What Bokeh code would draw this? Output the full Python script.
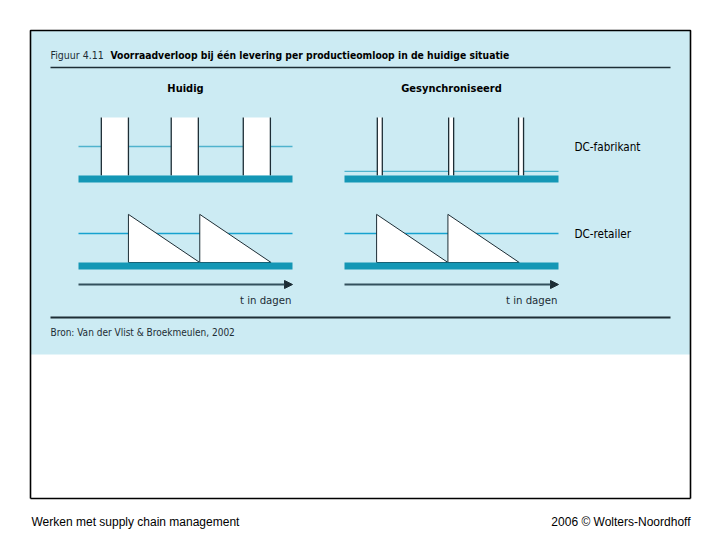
from bokeh.plotting import figure
from bokeh.models import Range1d, Arrow, NormalHead
from bokeh.core.properties import value
from bokeh.embed import file_html
from bokeh.resources import INLINE

# ---------------- data (days / stock units) ----------------
panels = ["Huidig", "Gesynchroniseerd"]
rows = ["DC-fabrikant", "DC-retailer"]
t_max = 30.0                       # days on each time axis
prod_start_huidig = [3.2, 13.0, 23.1]   # start of production run (days)
prod_len_huidig = 3.8
prod_start_sync = [4.6, 14.6, 24.4]
prod_len_sync = 0.7
fab_max = 100                      # stock level during a production run
fab_gem_huidig = 50                # average stock level DC-fabrikant
fab_gem_sync = 7
lev_huidig = [7.0, 17.0]           # deliveries to DC-retailer (days)
lev_sync = [4.5, 14.5]
cyclus = 10.0                      # days between deliveries
ret_max = 83
ret_gem = 50
x_label = "t in dagen"
title_a = "Figuur 4.11"
title_b = "Voorraadverloop bij één levering per productieomloop in de huidige situatie"
bron = "Bron: Van der Vlist & Broekmeulen, 2002"
foot_l = "Werken met supply chain management"
foot_r = "2006 © Wolters-Noordhoff"

# ---------------- styling / layout ----------------
BG = "#CCEBF3"
TEAL = "#1497B5"
THIN = "#4FB3CD"
DARK = "#1d2d35"
NARROW = value("DejaVu Sans Condensed")

panel_x0 = {"Huidig": 78, "Gesynchroniseerd": 344}
panel_w = 214
row_base = {"DC-fabrikant": 175, "DC-retailer": 262}
px_day = panel_w / t_max
px_unit = 0.58

p = figure(width=704, height=532, output_backend="svg", toolbar_location=None,
           x_range=Range1d(0, 704), y_range=Range1d(532, 0), min_border=0)
p.axis.visible = False
p.grid.visible = False
p.outline_line_color = None
p.background_fill_color = "white"

def X(panel, t):
    return panel_x0[panel] + t * px_day

def Y(row, v):
    return row_base[row] - v * px_unit

# frame and light blue area
p.quad(left=30, right=690, top=30, bottom=354, fill_color=BG, line_color=None)
p.line([30, 30, 690, 690], [498, 30, 30, 498], line_color="black", line_width=1.6)
p.line([30, 690], [498, 498], line_color="black", line_width=1.6)

# title and rules
p.text(x=[50], y=[54], text=[title_a], text_font=NARROW, text_font_size="10.5px",
       text_baseline="middle", text_color=DARK)
p.text(x=[110], y=[54], text=[title_b], text_font=NARROW, text_font_size="10.3px",
       text_font_style="bold", text_baseline="middle", text_color="black")
p.line([50, 670], [67, 67], line_color=DARK, line_width=1.3)
p.line([50, 670], [317, 317], line_color=DARK, line_width=2.2)
p.text(x=[50], y=[332], text=[bron], text_font=NARROW, text_font_size="10px",
       text_baseline="middle", text_color=DARK)

for pn in panels:
    cx = panel_x0[pn] + panel_w / 2
    p.text(x=[cx], y=[88], text=[pn], text_font=NARROW, text_font_size="11px",
           text_font_style="bold", text_align="center", text_baseline="middle",
           text_color="black")

# ---- DC-fabrikant row ----
for pn, starts, plen, gem in [("Huidig", prod_start_huidig, prod_len_huidig, fab_gem_huidig),
                              ("Gesynchroniseerd", prod_start_sync, prod_len_sync, fab_gem_sync)]:
    r = "DC-fabrikant"
    p.line([X(pn, 0), X(pn, t_max)], [Y(r, gem), Y(r, gem)], line_color=THIN, line_width=1.3)
    lefts = [X(pn, s) for s in starts]
    rights = [X(pn, s + plen) for s in starts]
    p.quad(left=lefts, right=rights, top=[Y(r, fab_max)] * len(starts),
           bottom=[Y(r, 0)] * len(starts), fill_color="white", line_color=None)
    p.segment(x0=lefts + rights, y0=[Y(r, fab_max)] * (2 * len(starts)),
              x1=lefts + rights, y1=[Y(r, 0)] * (2 * len(starts)),
              line_color=DARK, line_width=1.3)
    p.quad(left=[X(pn, 0)], right=[X(pn, t_max)], top=[Y(r, 0)], bottom=[Y(r, 0) + 7],
           fill_color=TEAL, line_color=None)

# ---- DC-retailer row ----
for pn, levs in [("Huidig", lev_huidig), ("Gesynchroniseerd", lev_sync)]:
    r = "DC-retailer"
    p.line([X(pn, 0), X(pn, t_max)], [Y(r, ret_gem), Y(r, ret_gem)], line_color="#16A2CF", line_width=1.3)
    xs = [[X(pn, s), X(pn, s), X(pn, s + cyclus)] for s in levs]
    ys = [[Y(r, 0), Y(r, ret_max), Y(r, 0)] for s in levs]
    p.patches(xs, ys, fill_color="white", line_color=DARK, line_width=1.0)
    p.quad(left=[X(pn, 0)], right=[X(pn, t_max)], top=[Y(r, 0)], bottom=[Y(r, 0) + 7],
           fill_color=TEAL, line_color=None)
    # time axis arrow
    p.add_layout(Arrow(end=NormalHead(size=8, fill_color=DARK, line_color=DARK),
                       x_start=X(pn, 0), y_start=284, x_end=X(pn, t_max), y_end=284,
                       line_color="#33505c", line_width=2))
    p.text(x=[X(pn, t_max) - 1], y=[300], text=[x_label], text_font=NARROW,
           text_font_size="11.3px", text_align="right", text_baseline="middle",
           text_color=DARK)

# row labels
for r in rows:
    p.text(x=[574], y=[row_base[r] - (fab_gem_huidig if r == "DC-fabrikant" else ret_gem) * px_unit],
           text=[r], text_font=NARROW, text_font_size="11.6px", text_baseline="middle",
           text_color="black")

# footer
p.text(x=[31], y=[521], text=[foot_l], text_font=value("Liberation Sans"), text_font_size="12px",
       text_baseline="middle", text_color="black")
p.text(x=[690], y=[521], text=[foot_r], text_font=value("Liberation Sans"), text_font_size="12px",
       text_align="right", text_baseline="middle", text_color="black")

open("out.html", "w").write(file_html(p, INLINE))
